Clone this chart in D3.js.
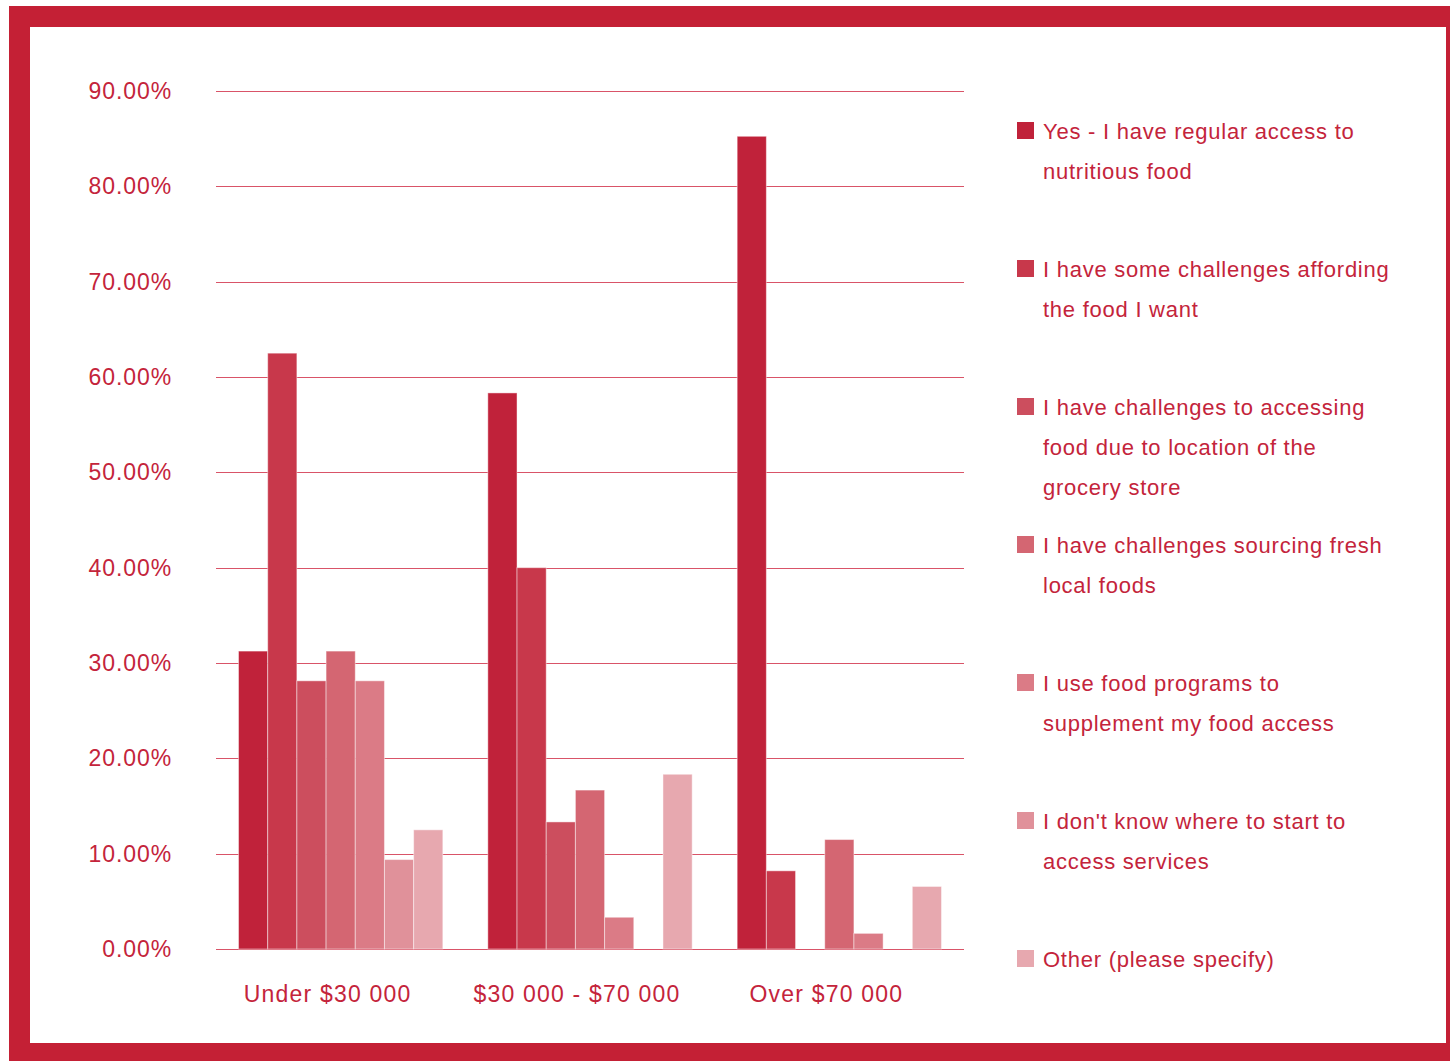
<!DOCTYPE html>
<html>
<head>
<meta charset="utf-8">
<script src="https://cdn.jsdelivr.net/npm/d3@7"></script>
<style>
  html, body { margin: 0; padding: 0; background: #fff; }
  svg { display: block; }
  text { font-family: "Liberation Sans", Arial, sans-serif; fill: #C4243B; }
</style>
</head>
<body>
<svg id="chart" width="1450" height="1061"></svg>
<script>
// Income groups along the x axis
const categories = ["Under $30 000", "$30 000 - $70 000", "Over $70 000"];

// Response options (legend order)
const seriesNames = [
  "Yes - I have regular access to nutritious food",
  "I have some challenges affording the food I want",
  "I have challenges to accessing food due to location of the grocery store",
  "I have challenges sourcing fresh local foods",
  "I use food programs to supplement my food access",
  "I don't know where to start to access services",
  "Other (please specify)"
];

// Legend text split into lines
const legendLines = [
  ["Yes - I have regular access to", "nutritious food"],
  ["I have some challenges affording", "the food I want"],
  ["I have challenges to accessing", "food due to location of the", "grocery store"],
  ["I have challenges sourcing fresh", "local foods"],
  ["I use food programs to", "supplement my food access"],
  ["I don't know where to start to", "access services"],
  ["Other (please specify)"]
];

// Percent of respondents, one array per income group, in series order
const under30 = [31.25, 62.50, 28.13, 31.25, 28.13, 9.38, 12.50];
const mid30to70 = [58.33, 40.00, 13.33, 16.67, 3.33, 0.00, 18.33];
const over70 = [85.25, 8.20, 0.00, 11.48, 1.64, 0.00, 6.56];

const yTicks = [0, 10, 20, 30, 40, 50, 60, 70, 80, 90];

const colors = ["#C0223A", "#C8384B", "#CC4E5E", "#D46672", "#DB7B86", "#E0919A", "#E7A8AF"];

const groupValues = [under30, mid30to70, over70];

const svg = d3.select("#chart");

// Frame
svg.append("rect").attr("x", 9).attr("y", 6).attr("width", 1441).attr("height", 1055).attr("fill", "#C42035");
svg.append("rect").attr("x", 30).attr("y", 27).attr("width", 1416).attr("height", 1016).attr("fill", "#fff");

const plotLeft = 216, plotRight = 964, plotTop = 91, plotBottom = 949;

const y = d3.scaleLinear().domain([0, 90]).range([plotBottom, plotTop]);
const x0 = d3.scaleBand().domain(categories).range([plotLeft, plotRight]).padding(0);
const x1 = d3.scaleBand().domain(seriesNames).range([22.5, x0.bandwidth() - 22.5]).padding(0);

// Gridlines
svg.append("g").selectAll("line").data(yTicks).join("line")
  .attr("x1", plotLeft).attr("x2", plotRight)
  .attr("y1", d => Math.round(y(d)) + 0.5).attr("y2", d => Math.round(y(d)) + 0.5)
  .attr("stroke", "#D95468").attr("stroke-width", 1);

// Y tick labels
svg.append("g").selectAll("text").data(yTicks).join("text")
  .attr("x", 172).attr("y", d => y(d))
  .attr("dy", "0.35em")
  .attr("text-anchor", "end")
  .attr("font-size", 23)
  .attr("letter-spacing", 0.9)
  .text(d => d.toFixed(2) + "%");

// Bars
const groups = svg.append("g").selectAll("g").data(categories).join("g")
  .attr("transform", d => `translate(${x0(d)},0)`);

groups.selectAll("rect")
  .data((c, i) => groupValues[i].map((v, j) => ({ name: seriesNames[j], value: v, idx: j })))
  .join("rect")
  .filter(d => d.value > 0)
  .attr("x", d => x1(d.name))
  .attr("y", d => y(d.value))
  .attr("width", x1.bandwidth())
  .attr("height", d => y(0) - y(d.value))
  .attr("fill", d => colors[d.idx])
  .attr("stroke", "rgba(255,255,255,0.45)")
  .attr("stroke-width", 1);

// X category labels
svg.append("g").selectAll("text").data(categories).join("text")
  .attr("x", d => x0(d) + x0.bandwidth() / 2 - 13)
  .attr("y", 994)
  .attr("dy", "0.35em")
  .attr("text-anchor", "middle")
  .attr("font-size", 23)
  .attr("letter-spacing", 1.2)
  .text(d => d);

// Legend
const legend = svg.append("g").selectAll("g").data(legendLines).join("g")
  .attr("transform", (d, i) => `translate(1017, ${131 + i * 138})`);

legend.append("rect")
  .attr("x", 0).attr("y", -9).attr("width", 17).attr("height", 17)
  .attr("fill", (d, i) => colors[i]);

legend.selectAll("text").data(d => d).join("text")
  .attr("x", 26)
  .attr("y", (d, k) => k * 40)
  .attr("dy", "0.35em")
  .attr("font-size", 22)
  .attr("letter-spacing", 0.75)
  .text(d => d);
</script>
</body>
</html>
